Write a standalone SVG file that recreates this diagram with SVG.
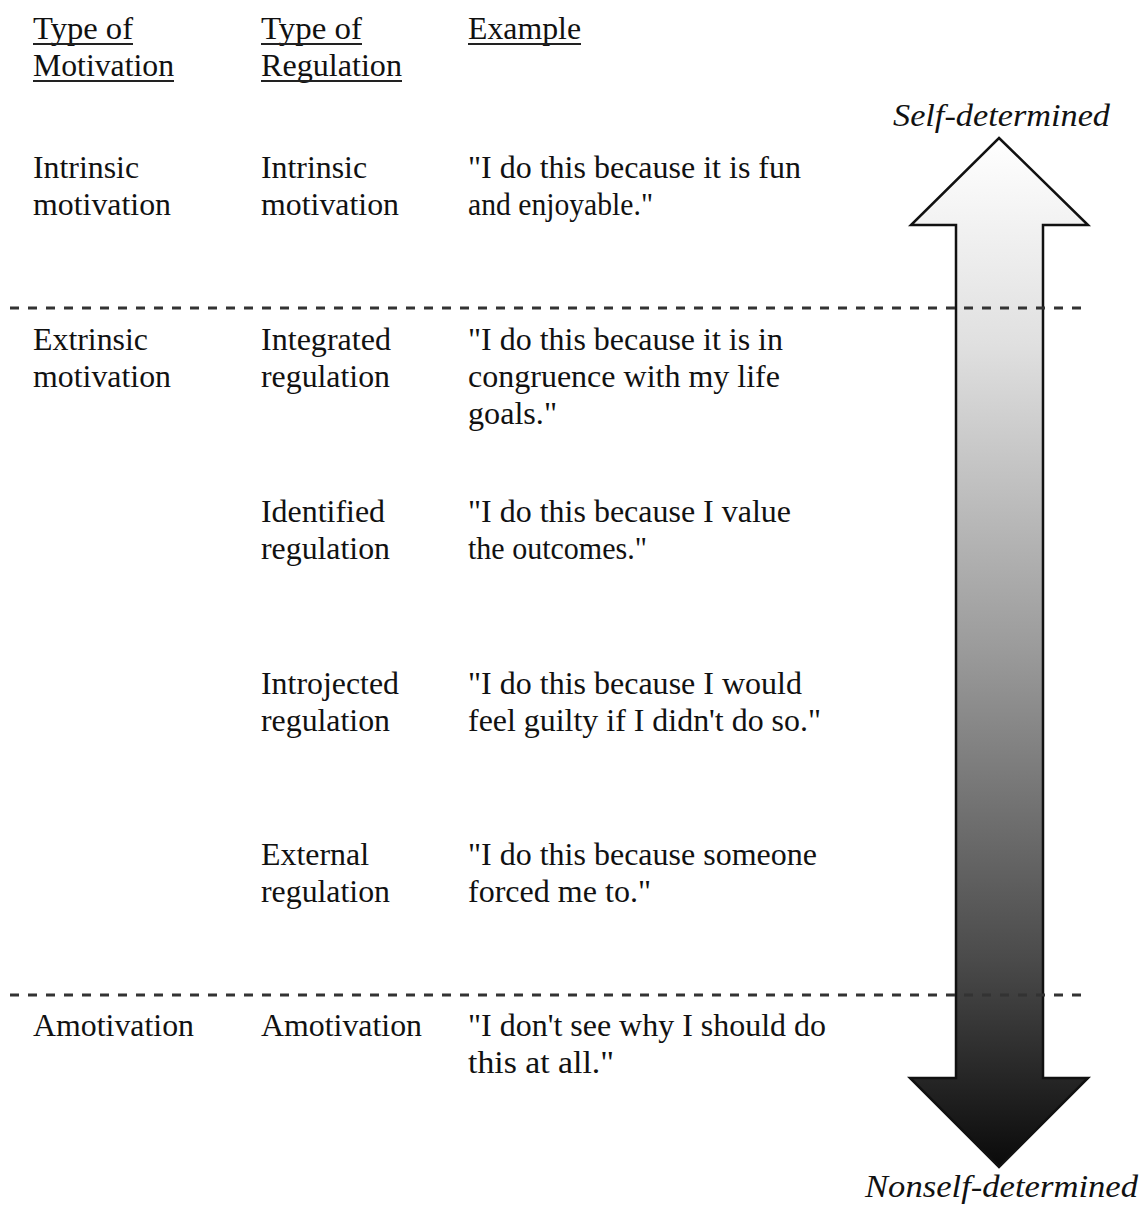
<svg xmlns="http://www.w3.org/2000/svg" width="1148" height="1208" viewBox="0 0 1148 1208">
<style>
text{font-family:"Liberation Serif","Times New Roman",serif;font-size:31px;fill:#111}
.it{font-style:italic;font-size:31px}
.ul{stroke:#222;stroke-width:2}
.dash{stroke:#333;stroke-width:3;stroke-dasharray:9 9;fill:none}
</style>
<defs>
<linearGradient id="g" x1="0" y1="138" x2="0" y2="1167" gradientUnits="userSpaceOnUse">
<stop offset="0" stop-color="#ffffff"/>
<stop offset="0.2" stop-color="#e0e0e0"/>
<stop offset="0.5" stop-color="#9a9a9a"/>
<stop offset="0.8" stop-color="#4a4a4a"/>
<stop offset="1" stop-color="#0a0a0a"/>
</linearGradient>
</defs>
<rect width="1148" height="1208" fill="#fff"/>

<g id="header">
<text x="33" y="39" textLength="100" lengthAdjust="spacingAndGlyphs">Type of</text>
<text x="33" y="76" textLength="141" lengthAdjust="spacingAndGlyphs">Motivation</text>
<text x="261" y="39" textLength="101" lengthAdjust="spacingAndGlyphs">Type of</text>
<text x="261" y="76" textLength="141" lengthAdjust="spacingAndGlyphs">Regulation</text>
<text x="468" y="39" textLength="113" lengthAdjust="spacingAndGlyphs">Example</text>
<line class="ul" x1="33" y1="44" x2="133" y2="44"/>
<line class="ul" x1="33" y1="81" x2="174" y2="81"/>
<line class="ul" x1="261" y1="44" x2="362" y2="44"/>
<line class="ul" x1="261" y1="81" x2="402" y2="81"/>
<line class="ul" x1="468" y1="44" x2="581" y2="44"/>
</g>

<g id="row-intrinsic">
<text x="33" y="178" textLength="106" lengthAdjust="spacingAndGlyphs">Intrinsic</text>
<text x="33" y="215" textLength="138" lengthAdjust="spacingAndGlyphs">motivation</text>
<text x="261" y="178" textLength="106" lengthAdjust="spacingAndGlyphs">Intrinsic</text>
<text x="261" y="215" textLength="138" lengthAdjust="spacingAndGlyphs">motivation</text>
<text x="468" y="178" textLength="333" lengthAdjust="spacingAndGlyphs">"I do this because it is fun</text>
<text x="468" y="215" textLength="185" lengthAdjust="spacingAndGlyphs">and enjoyable."</text>
</g>

<g id="row-integrated">
<text x="33" y="350" textLength="115" lengthAdjust="spacingAndGlyphs">Extrinsic</text>
<text x="33" y="387" textLength="138" lengthAdjust="spacingAndGlyphs">motivation</text>
<text x="261" y="350" textLength="130" lengthAdjust="spacingAndGlyphs">Integrated</text>
<text x="261" y="387" textLength="129" lengthAdjust="spacingAndGlyphs">regulation</text>
<text x="468" y="350" textLength="315" lengthAdjust="spacingAndGlyphs">"I do this because it is in</text>
<text x="468" y="387" textLength="312" lengthAdjust="spacingAndGlyphs">congruence with my life</text>
<text x="468" y="424" textLength="89" lengthAdjust="spacingAndGlyphs">goals."</text>
</g>

<g id="row-identified">
<text x="261" y="522" textLength="124" lengthAdjust="spacingAndGlyphs">Identified</text>
<text x="261" y="559" textLength="129" lengthAdjust="spacingAndGlyphs">regulation</text>
<text x="468" y="522" textLength="323" lengthAdjust="spacingAndGlyphs">"I do this because I value</text>
<text x="468" y="559" textLength="179" lengthAdjust="spacingAndGlyphs">the outcomes."</text>
</g>

<g id="row-introjected">
<text x="261" y="694" textLength="138" lengthAdjust="spacingAndGlyphs">Introjected</text>
<text x="261" y="731" textLength="129" lengthAdjust="spacingAndGlyphs">regulation</text>
<text x="468" y="694" textLength="334" lengthAdjust="spacingAndGlyphs">"I do this because I would</text>
<text x="468" y="731" textLength="353" lengthAdjust="spacingAndGlyphs">feel guilty if I didn't do so."</text>
</g>

<g id="row-external">
<text x="261" y="865" textLength="108" lengthAdjust="spacingAndGlyphs">External</text>
<text x="261" y="902" textLength="129" lengthAdjust="spacingAndGlyphs">regulation</text>
<text x="468" y="865" textLength="349" lengthAdjust="spacingAndGlyphs">"I do this because someone</text>
<text x="468" y="902" textLength="183" lengthAdjust="spacingAndGlyphs">forced me to."</text>
</g>

<g id="row-amotivation">
<text x="33" y="1036" textLength="161" lengthAdjust="spacingAndGlyphs">Amotivation</text>
<text x="261" y="1036" textLength="161" lengthAdjust="spacingAndGlyphs">Amotivation</text>
<text x="468" y="1036" textLength="358" lengthAdjust="spacingAndGlyphs">"I don't see why I should do</text>
<text x="468" y="1073" textLength="146" lengthAdjust="spacingAndGlyphs">this at all."</text>
</g>

<g id="arrow">
<polygon points="999,138 1088,225 1043,225 1043,1078 1088,1078 999,1167 910,1078 956,1078 956,225 911,225" fill="url(#g)" stroke="#111" stroke-width="2.5" stroke-linejoin="miter"/>
<text class="it" x="893" y="126" textLength="217" lengthAdjust="spacingAndGlyphs">Self-determined</text>
<text class="it" x="865" y="1197" textLength="273" lengthAdjust="spacingAndGlyphs">Nonself-determined</text>
</g>

<g id="connectors">
<line class="dash" x1="10" y1="308" x2="1088" y2="308"/>
<line class="dash" x1="10" y1="995" x2="1088" y2="995"/>
</g>
</svg>
